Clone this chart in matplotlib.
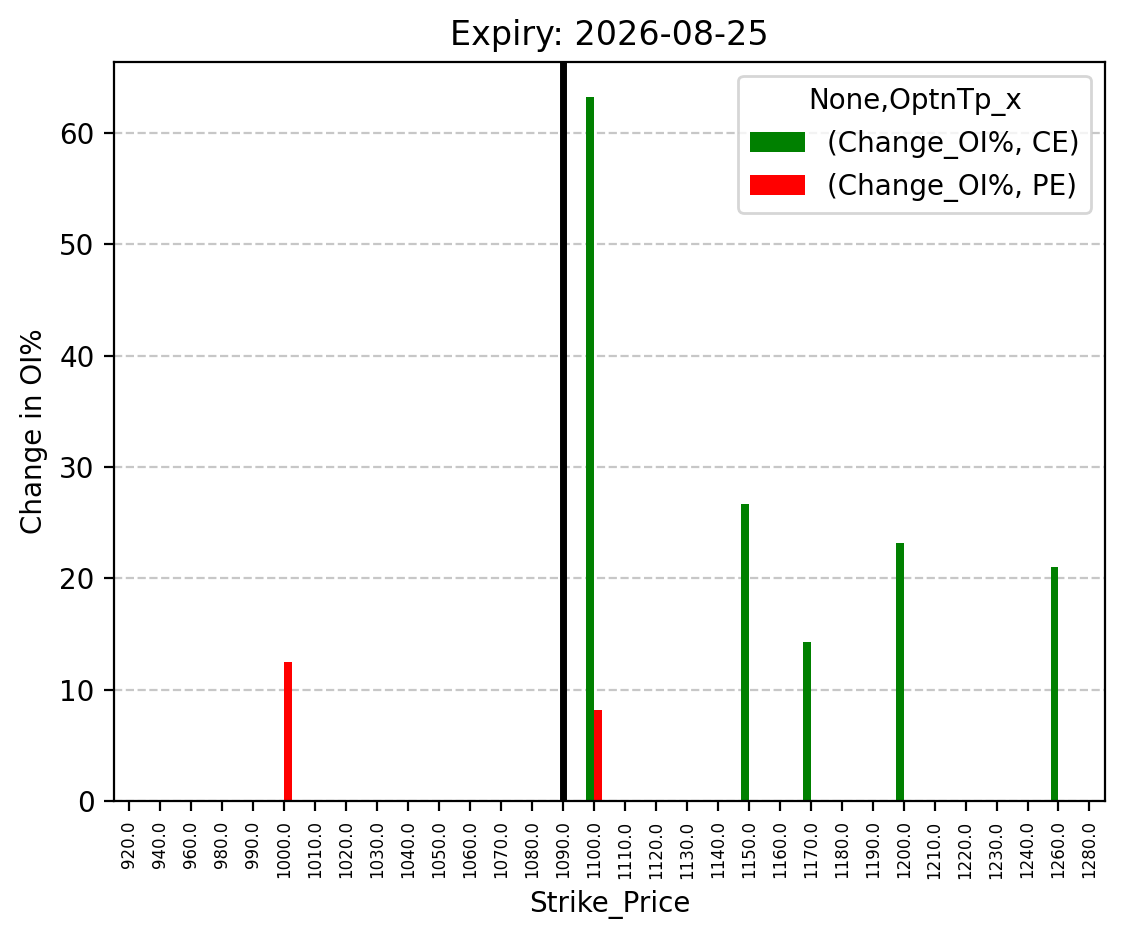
import numpy as np
import matplotlib
matplotlib.use('Agg')
import matplotlib.pyplot as plt

strikes = [920, 940, 960, 980, 990, 1000, 1010, 1020, 1030, 1040, 1050, 1060,
           1070, 1080, 1090, 1100, 1110, 1120, 1130, 1140, 1150, 1160, 1170,
           1180, 1190, 1200, 1210, 1220, 1230, 1240, 1260, 1280]
ce_change = {1100: 63.2, 1150: 26.65, 1170: 14.27, 1200: 23.2, 1260: 21.0}
pe_change = {1000: 12.5, 1100: 8.18}
spot_strike = 1090
expiry = '2026-08-25'

ce_vals = [ce_change.get(s, 0.0) for s in strikes]
pe_vals = [pe_change.get(s, 0.0) for s in strikes]
tick_labels = [f'{float(s)}' for s in strikes]

fig = plt.figure(figsize=(5.63, 4.695), dpi=200)
ax = fig.add_axes([0.1012, 0.1470, 0.8801, 0.7870])

x = np.arange(len(strikes))
w = 0.25
ax.bar(x - w / 2, ce_vals, w, color='green', label='(Change_OI%, CE)')
ax.bar(x + w / 2, pe_vals, w, color='red', label='(Change_OI%, PE)')
ax.set_xlim(-0.5, len(strikes) - 0.5)
ax.set_xticks(x)
ax.set_xticklabels(tick_labels, rotation=90, fontsize=6)

ax.axvline(strikes.index(spot_strike), color='black', linewidth=2.5)

ax.grid(axis='y', linestyle='--', alpha=0.7)
ax.set_axisbelow(True)
ax.set_title(f'Expiry: {expiry}')
ax.set_xlabel('Strike_Price')
ax.set_ylabel('Change in OI%')
ax.legend(title='None,OptnTp_x')

fig.savefig('out.png', dpi=200)
